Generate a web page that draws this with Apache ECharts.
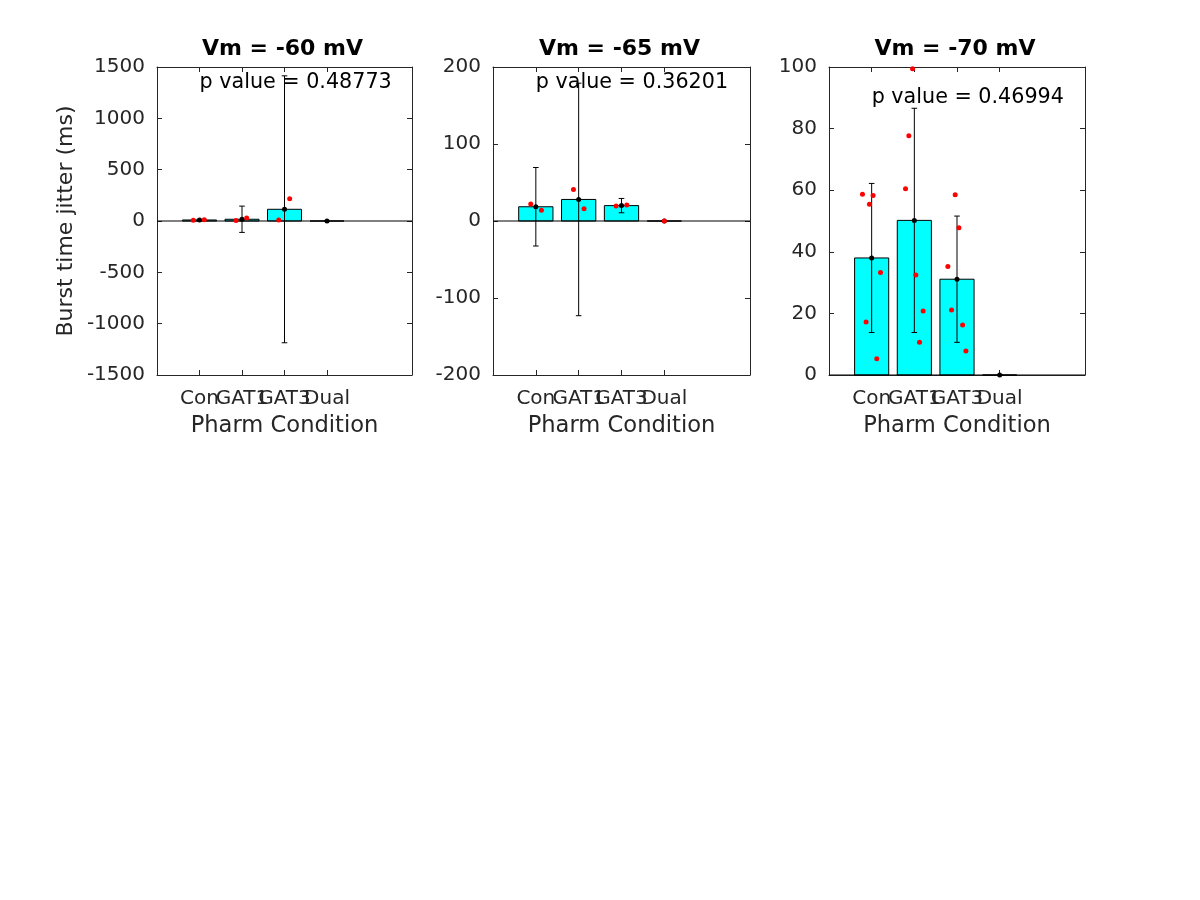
<!DOCTYPE html>
<html>
<head>
<meta charset="utf-8">
<script src="https://cdn.jsdelivr.net/npm/echarts@6/dist/echarts.min.js"></script>
<style>html,body{margin:0;padding:0;background:#fff;}#c{width:1200px;height:900px;}</style>
</head>
<body>
<div id="c"></div>
<script>
// ---- data ----
const categories = ['Con', 'GAT1', 'GAT3', 'Dual'];
const titles = ['Vm = -60 mV', 'Vm = -65 mV', 'Vm = -70 mV'];
const pValues = ['0.48773', '0.36201', '0.46994'];
const yMin = [-1500, -200, 0];
const yMax = [1500, 200, 100];
const yInterval = [500, 100, 20];

const means60 = [10, 17, 114, 0];
const errs60 = [6, 128, 1300, 0];
const points60 = [[0.854, 8], [1.113, 12], [1.859, 6], [2.11, 29], [2.864, 10], [3.122, 217]];

const means65 = [18.5, 28, 20, 0];
const errs65 = [51, 151, 9.3, 0];
const points65 = [[0.881, 22], [1.131, 14], [1.879, 41], [2.126, 16], [2.874, 19.5], [3.124, 20.8], [4, 0]];

const means70 = [38, 50.2, 31.1, 0];
const errs70 = [24.2, 36.4, 20.5, 0];
const points70 = [[0.784, 58.7], [1.033, 58.3], [0.948, 55.4], [1.207, 33.3], [0.869, 17.2], [1.12, 5.3],
                  [1.958, 99.4], [1.871, 77.7], [1.793, 60.5], [2.035, 32.5], [2.207, 20.8], [2.122, 10.6],
                  [2.958, 58.5], [3.045, 47.8], [2.786, 35.2], [2.873, 21.1], [3.131, 16.2], [3.209, 7.8]];

const allMeans = [means60, means65, means70];
const allErrs = [errs60, errs65, errs70];
const allPoints = [points60, points65, points70];

// ---- layout ----
const grids = [
  {left: 157, top: 67, width: 255, height: 308},
  {left: 493, top: 67, width: 257, height: 308},
  {left: 829, top: 67, width: 256, height: 308}
];
const axisColor = '#262626';
const fontFam = '"DejaVu Sans", sans-serif';
const tickPos = [1, 2, 3, 4];
const labelSetA = [1, 3];
const labelSetB = [2, 4];

const option = {
  animation: false,
  backgroundColor: '#fff',
  title: [],
  grid: grids.map(g => Object.assign({containLabel: false}, g)),
  xAxis: [],
  yAxis: [],
  series: []
};

function xLabelStyle(vals) {
  return {show: true, customValues: vals, formatter: v => categories[Math.round(v) - 1] || '',
    fontFamily: fontFam, fontSize: 20, color: axisColor, margin: 14, hideOverlap: false,
    showMinLabel: true, showMaxLabel: true};
}

for (let i = 0; i < 3; i++) {
  const g = grids[i];
  option.title.push({
    text: titles[i],
    left: g.left + g.width / 2 - 7,
    top: 33,
    textAlign: 'center',
    textStyle: {fontFamily: fontFam, fontWeight: 'bold', fontSize: 22, color: '#000'}
  });
  // bottom x axis (labels Con, GAT3)
  option.xAxis.push({
    type: 'value', gridIndex: i, min: 0, max: 6, interval: 1, position: 'bottom',
    name: 'Pharm Condition', nameLocation: 'middle', nameGap: 40,
    nameTextStyle: {fontFamily: fontFam, fontSize: 22.6, color: axisColor},
    axisLine: {show: true, onZero: false, lineStyle: {color: axisColor, width: 1}},
    axisTick: {show: true, inside: true, length: 5, customValues: tickPos, lineStyle: {color: axisColor}},
    axisLabel: xLabelStyle(labelSetA),
    splitLine: {show: false}
  });
  // left y axis
  option.yAxis.push({
    type: 'value', gridIndex: i, min: yMin[i], max: yMax[i], interval: yInterval[i], position: 'left',
    name: i === 0 ? 'Burst time jitter (ms)' : '', nameLocation: 'middle', nameGap: 80,
    nameTextStyle: {fontFamily: fontFam, fontSize: 22, color: axisColor},
    axisLine: {show: true, onZero: false, lineStyle: {color: axisColor, width: 1}},
    axisTick: {show: true, inside: true, length: 5, lineStyle: {color: axisColor}},
    axisLabel: {fontFamily: fontFam, fontSize: 20, color: axisColor, margin: 12,
      formatter: v => String(v), showMinLabel: true, showMaxLabel: true},
    splitLine: {show: false}
  });
}
for (let i = 0; i < 3; i++) {
  // top x axis (box)
  option.xAxis.push({
    type: 'value', gridIndex: i, min: 0, max: 6, interval: 1, position: 'top',
    axisLine: {show: true, onZero: false, lineStyle: {color: axisColor, width: 1}},
    axisTick: {show: true, inside: true, length: 5, customValues: tickPos, lineStyle: {color: axisColor}},
    axisLabel: {show: false}, splitLine: {show: false}
  });
  // right y axis (box)
  option.yAxis.push({
    type: 'value', gridIndex: i, min: yMin[i], max: yMax[i], interval: yInterval[i], position: 'right',
    axisLine: {show: true, onZero: false, lineStyle: {color: axisColor, width: 1}},
    axisTick: {show: true, inside: true, length: 5, lineStyle: {color: axisColor}},
    axisLabel: {show: false}, splitLine: {show: false}
  });
}
for (let i = 0; i < 3; i++) {
  // second bottom x axis carrying labels GAT1, Dual
  option.xAxis.push({
    type: 'value', gridIndex: i, min: 0, max: 6, interval: 1, position: 'bottom', offset: 0,
    axisLine: {show: false, onZero: false},
    axisTick: {show: false},
    axisLabel: xLabelStyle(labelSetB),
    splitLine: {show: false}
  });
}

for (let i = 0; i < 3; i++) {
  const barData = allMeans[i].map((m, k) => [k + 1, m, allErrs[i][k]]);
  // bars
  option.series.push({
    type: 'custom', xAxisIndex: i, yAxisIndex: i, z: 2, clip: false,
    data: barData,
    renderItem: function (params, api) {
      const x = api.value(0), v = api.value(1);
      const p0 = api.coord([x - 0.4, 0]);
      const p1 = api.coord([x + 0.4, v]);
      return {
        type: 'rect',
        shape: {x: p0[0], y: Math.min(p0[1], p1[1]), width: p1[0] - p0[0], height: Math.abs(p1[1] - p0[1])},
        style: {fill: '#00ffff', stroke: '#000', lineWidth: 1}
      };
    }
  });
  // baseline at zero
  option.series.push({
    type: 'line', xAxisIndex: i, yAxisIndex: i, z: 3, symbol: 'none', silent: true,
    data: [[0, 0], [6, 0]],
    lineStyle: {color: '#000', width: 1}
  });
  // error bars
  option.series.push({
    type: 'custom', xAxisIndex: i, yAxisIndex: i, z: 4,
    data: barData,
    renderItem: function (params, api) {
      const x = api.value(0), v = api.value(1), e = api.value(2);
      const top = api.coord([x, v + e]);
      const bot = api.coord([x, v - e]);
      const c = 2.8;
      return {
        type: 'group',
        children: [
          {type: 'line', shape: {x1: top[0], y1: top[1], x2: bot[0], y2: bot[1]}, style: {stroke: '#000', lineWidth: 1}},
          {type: 'line', shape: {x1: top[0] - c, y1: top[1], x2: top[0] + c, y2: top[1]}, style: {stroke: '#000', lineWidth: 1}},
          {type: 'line', shape: {x1: bot[0] - c, y1: bot[1], x2: bot[0] + c, y2: bot[1]}, style: {stroke: '#000', lineWidth: 1}}
        ]
      };
    }
  });
  // mean dots
  option.series.push({
    type: 'scatter', xAxisIndex: i, yAxisIndex: i, z: 5, symbolSize: 5,
    data: allMeans[i].map((m, k) => [k + 1, m]),
    itemStyle: {color: '#000', opacity: 1}
  });
  // individual points
  option.series.push({
    type: 'scatter', xAxisIndex: i, yAxisIndex: i, z: 6, symbolSize: 5,
    data: allPoints[i],
    itemStyle: {color: '#ff0000', opacity: 1}
  });
  // p value text
  option.series.push({
    type: 'custom', xAxisIndex: i, yAxisIndex: i, z: 7, clip: false,
    data: [[1, yMax[i] * 0.9]],
    renderItem: (function (idx) {
      return function (params, api) {
        const p = api.coord([api.value(0), api.value(1)]);
        return {
          type: 'text', x: p[0], y: p[1],
          style: {text: 'p value = ' + pValues[idx], fill: '#000', font: '20.7px "DejaVu Sans", sans-serif',
            textAlign: 'left', textVerticalAlign: 'middle'}
        };
      };
    })(i)
  });
}

const chart = echarts.init(document.getElementById('c'), null, {renderer: 'canvas'});
chart.setOption(option);
</script>
</body>
</html>
